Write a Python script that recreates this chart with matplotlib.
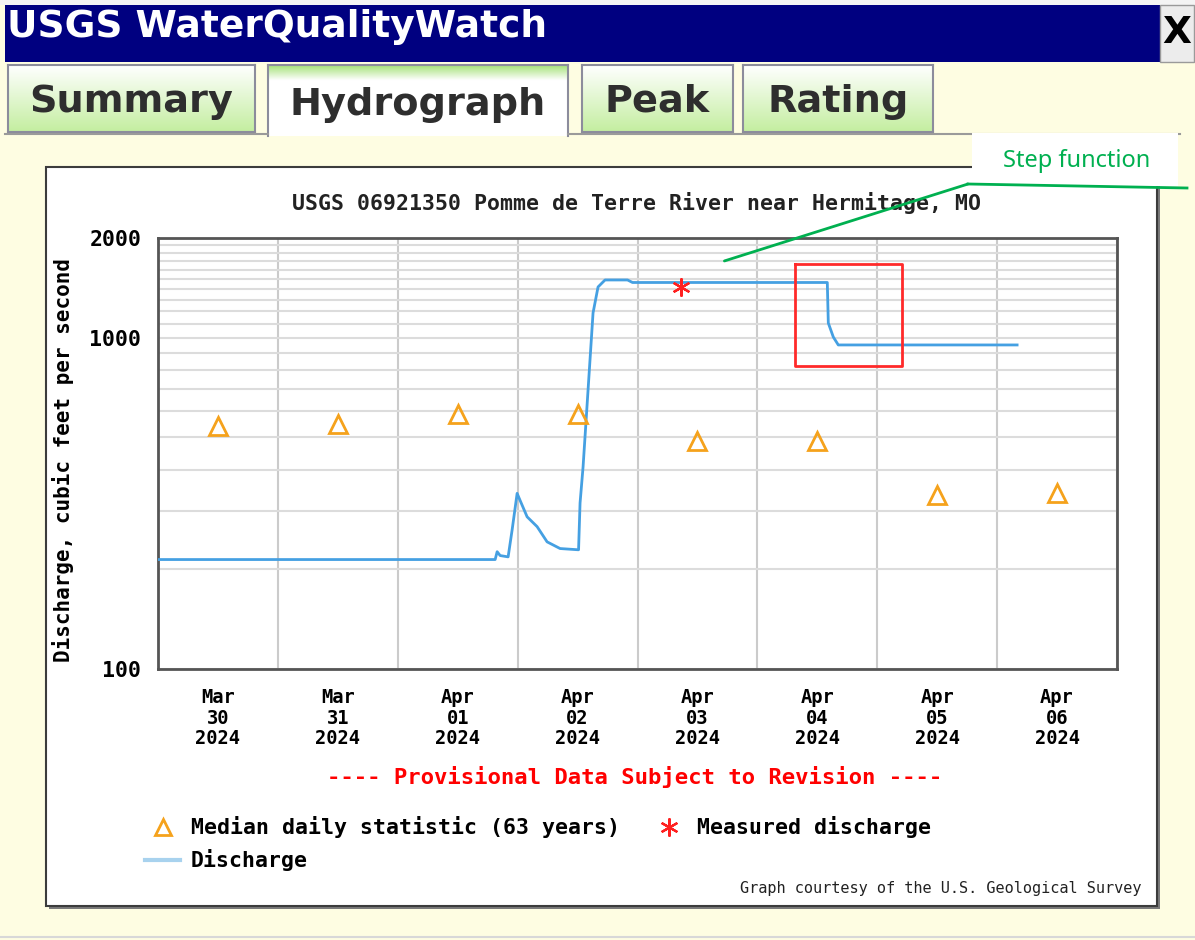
import numpy as np
import pandas as pd
import matplotlib
matplotlib.use("Agg")
import matplotlib.pyplot as plt
import matplotlib.dates as mdates
from matplotlib.patches import Rectangle
from matplotlib.lines import Line2D
from matplotlib.colors import LinearSegmentedColormap
from matplotlib.ticker import NullFormatter

start = pd.Timestamp("2024-03-30 00:00")

# discharge, hours since Mar 30 00:00 and cfs
dis_hours = [0, 67.5, 67.9, 68.5, 70.1, 70.9, 71.9, 72.6, 73.9, 75.9, 77.9,
             80.5, 84.2, 84.5, 85.1, 86.1, 87.1, 88.1, 89.5, 94.0, 95.0,
             98.6, 134.0, 134.2, 135.2, 136.2, 172.0]
dis_vals = [214, 214, 226, 220, 218, 263, 339, 320, 288, 269, 242,
            231, 229, 317, 407, 695, 1188, 1423, 1494, 1494, 1468,
            1468, 1468, 1108, 1005, 951, 951]

median_days = ["2024-03-30 12:00", "2024-03-31 12:00", "2024-04-01 12:00",
               "2024-04-02 12:00", "2024-04-03 12:00", "2024-04-04 12:00",
               "2024-04-05 12:00", "2024-04-06 12:00"]
median_vals = [541, 549, 587, 590, 488, 488, 335, 339]

measured_time = ["2024-04-03 08:45"]
measured_vals = [1418]

# highlighted region (red box) and callout anchor
box_times = ["2024-04-04 07:30", "2024-04-05 05:00"]
box_vals = [821, 1665]
callout_time = "2024-04-03 17:24"
callout_val = 1705

tick_labels = ["Mar\n30\n2024", "Mar\n31\n2024", "Apr\n01\n2024", "Apr\n02\n2024",
               "Apr\n03\n2024", "Apr\n04\n2024", "Apr\n05\n2024", "Apr\n06\n2024"]

# ---- figure / page layout (pixel helpers) ----
W, H = 1195, 940
def fx(x):
    return x / W
def fy(y):
    return 1 - y / H

MONO = "DejaVu Sans Mono"
YELLOW = "#fefde2"
GREEN = "#00b050"

fig = plt.figure(figsize=(W / 100, H / 100), dpi=100, facecolor=YELLOW)

def rect(x0, y0, x1, y1, **kw):
    r = Rectangle((fx(x0), fy(y1)), fx(x1) - fx(x0), fy(y0) - fy(y1),
                  transform=fig.transFigure, **kw)
    fig.patches.append(r)
    return r

# top strip, title bar, close button
rect(0, 0, W, 5, facecolor="#f4f4f4", edgecolor="none")
rect(5, 5, 1160, 62, facecolor="#000080", edgecolor="none")
rect(1160, 5, 1194, 62, facecolor="#ececec", edgecolor="#9a9a9a", lw=1)
fig.text(fx(7), fy(27), "USGS WaterQualityWatch", color="white", fontsize=27,
         fontweight="bold", family="DejaVu Sans", ha="left", va="center")
fig.text(fx(1177), fy(33), "X", color="black", fontsize=27, fontweight="bold",
         family="DejaVu Sans", ha="center", va="center")

# tabs
def tab(x0, y0, x1, y1, top, bottom, label, ty=0.45):
    ax_t = fig.add_axes([fx(x0), fy(y1), fx(x1) - fx(x0), fy(y0) - fy(y1)])
    cmap = LinearSegmentedColormap.from_list("t", [top, bottom])
    ax_t.imshow(np.linspace(0, 1, 100).reshape(-1, 1), aspect="auto", cmap=cmap)
    ax_t.set_xticks([])
    ax_t.set_yticks([])
    for s in ax_t.spines.values():
        s.set_color("#8c8c9c")
        s.set_linewidth(1.5)
    ax_t.text(0.5, ty, label, transform=ax_t.transAxes, ha="center", va="center",
              fontsize=27.5, fontweight="bold", color="#2e2e2e", family="DejaVu Sans")
    return ax_t

tab(8, 65, 255, 132, "#ffffff", "#c4eea0", "Summary")
hyd = tab(268, 65, 568, 136, "#a6e27a", "#ffffff", "Hydrograph", ty=0.44)
hyd.images[0].set_array(np.concatenate([np.linspace(0, 1, 22), np.ones(78)]).reshape(-1, 1))
hyd.spines["bottom"].set_visible(False)
tab(582, 65, 733, 132, "#ffffff", "#c4eea0", "Peak")
tab(743, 65, 933, 132, "#ffffff", "#c4eea0", "Rating")
fig.lines.append(Line2D([fx(5), fx(268)], [fy(134), fy(134)], color="#9a9a9a", lw=1.5,
                        transform=fig.transFigure))
fig.lines.append(Line2D([fx(568), fx(1180)], [fy(134), fy(134)], color="#9a9a9a", lw=1.5,
                        transform=fig.transFigure))

# chart panel
rect(49, 170, 1160, 909, facecolor="#7a7a7a", edgecolor="none")
rect(46, 167, 1157, 906, facecolor="white", edgecolor="#3c3c3c", lw=1.5)
fig.lines.append(Line2D([0, 1], [fy(937), fy(937)], color="#d8d8d8", lw=1.5,
                        transform=fig.transFigure))

# ---- the hydrograph axes ----
ax = fig.add_axes([fx(158), fy(669), fx(1117) - fx(158), fy(238) - fy(669)])
ax.set_zorder(5)
ax.set_facecolor("white")
ax.set_yscale("log")
ax.set_ylim(100, 2000)
ax.set_xlim(start, start + pd.Timedelta(days=8))

dis_t = start + pd.to_timedelta(dis_hours, unit="h")
ax.plot(dis_t, dis_vals, color="#45a0e2", lw=2, zorder=4)
ax.plot(pd.to_datetime(median_days), median_vals, linestyle="none", marker="^",
        markersize=13, markerfacecolor="none", markeredgecolor="#f5a21c",
        markeredgewidth=2, zorder=5)
ax.plot(pd.to_datetime(measured_time), measured_vals, linestyle="none", marker=(6, 2, 0),
        markersize=13, markeredgecolor="#ff2020", markeredgewidth=1.6, zorder=6)

bt = pd.to_datetime(box_times)
ax.plot([bt[0], bt[1], bt[1], bt[0], bt[0]],
        [box_vals[1], box_vals[1], box_vals[0], box_vals[0], box_vals[1]],
        color="#ff2a2a", lw=2, zorder=7)

ax.xaxis.set_minor_locator(mdates.DayLocator())
ax.set_xticks(pd.to_datetime(median_days))
ax.set_xticklabels(tick_labels, family=MONO, fontweight="bold", fontsize=13.5,
                   linespacing=1.1)
ax.set_yticks([100, 1000, 2000])
ax.set_yticklabels(["100", "1000", "2000"], family=MONO, fontweight="bold", fontsize=15.5)
ax.set_yticks(list(range(200, 1000, 100)) + list(range(1100, 2000, 100)), minor=True)
ax.yaxis.set_minor_formatter(NullFormatter())
ax.tick_params(which="both", length=0)
ax.tick_params(axis="x", pad=14)
ax.tick_params(axis="y", pad=12)
ax.grid(which="minor", axis="x", color="#cbcbcb", lw=1.5)
ax.grid(which="minor", axis="y", color="#dcdcdc", lw=1.5)
ax.grid(which="major", axis="y", color="#dcdcdc", lw=1.5)
for s in ax.spines.values():
    s.set_color("#555555")
    s.set_linewidth(2)
ax.set_axisbelow(True)

ax.set_ylabel("Discharge, cubic feet per second", family=MONO, fontweight="bold",
              fontsize=15)
ax.yaxis.set_label_coords(fx(74), fy(460), transform=fig.transFigure)

fig.text(fx(637), fy(203), "USGS 06921350 Pomme de Terre River near Hermitage, MO",
         family=MONO, fontweight="bold", fontsize=15.5, ha="center", va="center",
         color="#222222")
fig.text(fx(635), fy(777), "---- Provisional Data Subject to Revision ----",
         family=MONO, fontweight="bold", fontsize=16, ha="center", va="center",
         color="#ff0000")
fig.text(fx(1141), fy(889), "Graph courtesy of the U.S. Geological Survey",
         family=MONO, fontsize=11, ha="right", va="center", color="#222222")

# legend
h_med = Line2D([], [], linestyle="none", marker="^", markersize=12, markerfacecolor="none",
               markeredgecolor="#f5a21c", markeredgewidth=2)
h_dis = Line2D([], [], color="#a8d2ee", lw=3)
h_mea = Line2D([], [], linestyle="none", marker=(6, 2, 0), markersize=13,
               markeredgecolor="#ff2020", markeredgewidth=1.6)
leg = fig.legend([h_med, h_dis, h_mea],
                 ["Median daily statistic (63 years)", "Discharge", "Measured discharge"],
                 ncol=2, loc="upper left", bbox_to_anchor=(fx(126), fy(797)),
                 frameon=False, prop={"family": MONO, "weight": "bold", "size": 15.5},
                 handlelength=1.6, handletextpad=0.5, columnspacing=1.5,
                 labelspacing=0.5)
leg.set_zorder(6)

# step-function callout
rect(972, 133, 1178, 186, facecolor="white", edgecolor="none", zorder=10)
fig.text(fx(1077), fy(161), "Step function", color=GREEN, fontsize=17,
         family=["Noto Sans", "DejaVu Sans"], ha="center", va="center", zorder=11)
ax.annotate("", xy=(pd.Timestamp(callout_time), callout_val), xycoords="data",
            xytext=(fx(968), fy(184)), textcoords="figure fraction",
            arrowprops=dict(arrowstyle="-", color=GREEN, lw=2, shrinkA=0, shrinkB=0),
            annotation_clip=False, zorder=12)
fig.lines.append(Line2D([fx(968), fx(1187)], [fy(184), fy(188)], color=GREEN, lw=2,
                        transform=fig.transFigure, zorder=12))

fig.savefig("out.png", dpi=100, facecolor=fig.get_facecolor())
